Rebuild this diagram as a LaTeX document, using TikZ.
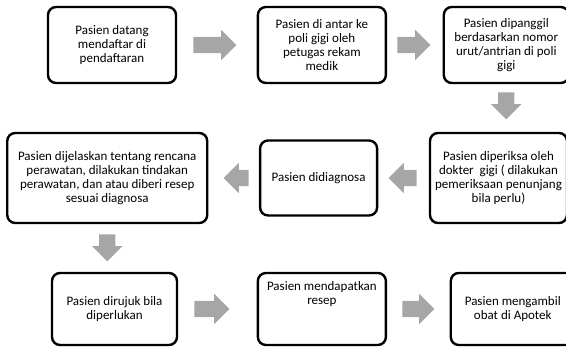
\documentclass[tikz,border=0pt]{standalone}
\usepackage{fontspec}
\setmainfont{Carlito}
\usetikzlibrary{positioning, shapes.arrows}
\definecolor{arrowgray}{RGB}{166,166,166}

\begin{document}
\begin{tikzpicture}[
        x=1pt, y=-1pt,
        font=\fontsize{13}{14}\selectfont,
        stepbox/.style={rectangle, draw=black, line width=2.4pt, rounded corners=8pt, minimum width=128pt, minimum height=76pt, align=center, inner sep=2pt},
        harrow/.style={single arrow, fill=arrowgray, draw=none, inner xsep=0pt, inner ysep=8pt, single arrow head extend=7pt, minimum height=43pt},
        varrow/.style={harrow, shape border rotate=270, inner xsep=8pt, inner ysep=0pt}
        ]
        \useasboundingbox (0,0) rectangle (566,347);
        \clip (0,0) rectangle (566,347);

        % first row, left to right
        \node[stepbox] (daftar) at (112,45) {Pasien datang\\mendaftar di\\pendaftaran};
        \node[harrow, right=16pt of daftar] (ar1) {};
        \node[stepbox, right=20pt of ar1] (antar) {Pasien di antar ke\\poli gigi oleh\\petugas rekam\\medik};
        \node[harrow, minimum height=33pt, right=10pt of antar] (ar2) {};
        \node[stepbox, minimum width=125pt, right=12pt of ar2] (panggil) {Pasien dipanggil\\berdasarkan nomor\\urut/antrian di poli\\gigi};
        \node[varrow, minimum height=27pt, below=8pt of panggil] (ar3) {};

        % second row, right to left
        \node[stepbox, minimum width=137pt, minimum height=90pt] (periksa) at (498.5,178) {Pasien diperiksa oleh\\dokter\ \ gigi ( dilakukan\\pemeriksaan penunjang\\bila perlu)};
        \node[harrow, shape border rotate=180, minimum height=28pt, left=12pt of periksa] (ar4) {};
        \node[stepbox, minimum width=117pt, minimum height=75pt, left=10pt of ar4] (diagnosa) {Pasien didiagnosa};
        \node[harrow, shape border rotate=180, minimum height=25pt, left=10pt of diagnosa] (ar5) {};
        \node[stepbox, minimum width=200pt, minimum height=90pt, left=15pt of ar5] (jelas) {Pasien dijelaskan tentang rencana\\perawatan, dilakukan tindakan\\perawatan, dan atau diberi resep\\sesuai diagnosa};
        \node[varrow, minimum height=27pt, below=10pt of jelas] (ar6) {};

        % third row, left to right
        \node[stepbox, minimum width=125pt, minimum height=72pt] (rujuk) at (114.5,309) {Pasien dirujuk bila\\diperlukan};
        \node[harrow, minimum height=35pt, right=16pt of rujuk] (ar7) {};
        \node[stepbox, minimum height=72pt, text depth=32pt, right=27pt of ar7] (resep) {Pasien mendapatkan\\resep};
        \node[harrow, minimum height=32pt, right=15pt of resep] (ar8) {};
        \node[stepbox, minimum width=124pt, minimum height=72pt, right=15pt of ar8] (apotek) {Pasien mengambil\\obat di Apotek};
    \end{tikzpicture}
\end{document}
